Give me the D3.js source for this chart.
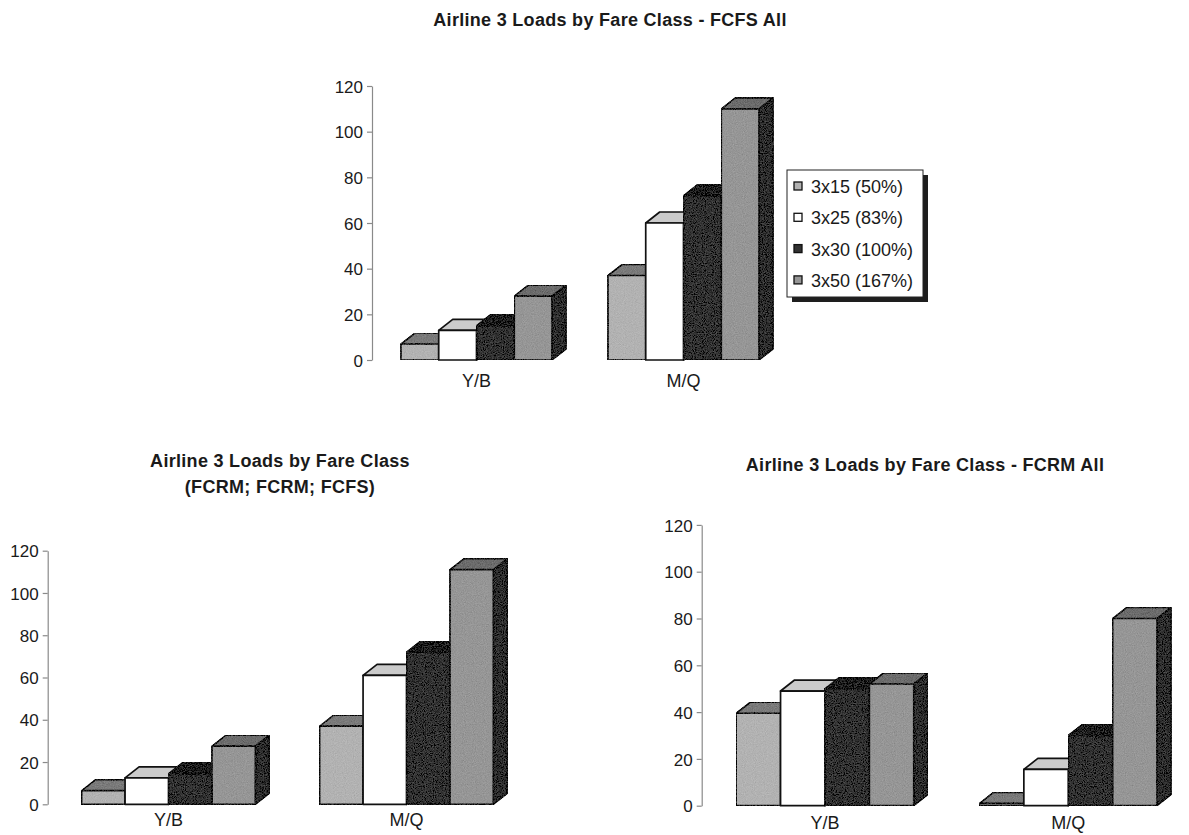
<!DOCTYPE html>
<html>
<head>
<meta charset="utf-8">
<script src="https://cdn.jsdelivr.net/npm/d3@7"></script>
<style>
  html, body { margin: 0; padding: 0; background: #fff; }
  svg { display: block; }
  text { font-family: "Liberation Sans", Arial, Helvetica, sans-serif; fill: #1a1a1a; }
  .title { font-weight: bold; font-size: 18px; letter-spacing: 0.3px; }
  .tick text { font-size: 17px; }
  .cat { font-size: 18px; }
  .legend text { font-size: 18px; }
</style>
</head>
<body>
<script>
// Categories, series and tick values
const categories = ["Y/B", "M/Q"];
const seriesNames = ["3x15 (50%)", "3x25 (83%)", "3x30 (100%)", "3x50 (167%)"];
const yTicks = [0, 20, 40, 60, 80, 100, 120];

// Loads per series, one array per fare class, for each scenario
const fcfsAllYB = [7, 13, 15, 28];
const fcfsAllMQ = [37, 60, 72, 110];
const mixedYB = [6.5, 12.5, 14.5, 27.5];
const mixedMQ = [37, 61, 72, 111];
const fcrmAllYB = [39.5, 49, 50, 52];
const fcrmAllMQ = [1, 15.5, 30, 80];

// Face shading per series: front, top and right side of each column
const seriesStyle = [
  { front: "#b2b2b2", top: "#7a7a7a", side: "#383838", grain: true },
  { front: "#ffffff", top: "#cbcbcb", side: "#383838", grain: false },
  { front: "#323232", top: "#1e1e1e", side: "#1c1c1c", grain: true },
  { front: "#969696", top: "#6c6c6c", side: "#2e2e2e", grain: true }
];

const W = 1189, H = 835;
const svg = d3.select("body").append("svg").attr("width", W).attr("height", H);

// Light stipple used on the shaded column faces
const defs = svg.append("defs");
const grain = defs.append("filter").attr("id", "grain")
  .attr("x", 0).attr("y", 0).attr("width", "100%").attr("height", "100%");
grain.append("feTurbulence").attr("type", "fractalNoise").attr("baseFrequency", 0.9)
  .attr("numOctaves", 2).attr("seed", 7).attr("result", "noise");
grain.append("feColorMatrix").attr("in", "noise").attr("type", "matrix")
  .attr("values", "0.33 0.33 0.33 0 0  0.33 0.33 0.33 0 0  0.33 0.33 0.33 0 0  0 0 0 0 1")
  .attr("result", "grey");
grain.append("feComposite").attr("in", "SourceGraphic").attr("in2", "grey")
  .attr("operator", "arithmetic").attr("k1", 0).attr("k2", 1).attr("k3", 0.32).attr("k4", -0.16)
  .attr("result", "mix");
grain.append("feComposite").attr("in", "mix").attr("in2", "SourceGraphic").attr("operator", "in");

const DX = 14, DY = 11;   // depth offset of the 3-D columns

function drawChart(cfg) {
  const g = svg.append("g");

  const y = d3.scaleLinear().domain([0, 120]).range([cfg.y0, cfg.y120]);
  const x = d3.scaleBand().domain(categories)
    .range([cfg.plotStart, cfg.plotStart + 2 * cfg.step])
    .paddingInner(0.27).paddingOuter(0.135);
  const xs = d3.scaleBand().domain(d3.range(seriesNames.length)).range([0, x.bandwidth()]);

  // Title
  cfg.title.forEach((line, i) => {
    g.append("text").attr("class", "title")
      .attr("x", cfg.titleX).attr("y", cfg.titleY + i * 26)
      .attr("text-anchor", "middle").text(line);
  });

  // Value axis
  const axis = g.append("g").attr("transform", `translate(${cfg.axisX},0)`)
    .call(d3.axisLeft(y).tickValues(yTicks).tickSize(5).tickSizeOuter(0).tickPadding(4));
  axis.select(".domain").attr("stroke", "#8a8a8a").attr("stroke-width", 1.2);
  axis.selectAll(".tick line").attr("stroke", "#8a8a8a").attr("stroke-width", 1.2);
  axis.selectAll(".tick text").attr("fill", "#1a1a1a").attr("dy", "0.36em");

  // Columns: drawn left to right so each one covers the side of its neighbour
  const base = y(0);
  categories.forEach((cat, ci) => {
    const vals = cfg.values[ci];
    vals.forEach((v, si) => {
      const st = seriesStyle[si];
      const x0 = x(cat) + xs(si), x1 = x0 + xs.bandwidth();
      const yt = y(v);
      const col = g.append("g")
        .attr("stroke", "#111").attr("stroke-width", 1.7).attr("stroke-linejoin", "round");
      const f = st.grain ? "url(#grain)" : null;
      col.append("path")
        .attr("d", `M${x1},${base}L${x1 + DX},${base - DY}L${x1 + DX},${yt - DY}L${x1},${yt}Z`)
        .attr("fill", st.side).attr("filter", f);
      col.append("path")
        .attr("d", `M${x0},${yt}L${x0 + DX},${yt - DY}L${x1 + DX},${yt - DY}L${x1},${yt}Z`)
        .attr("fill", st.top).attr("filter", f);
      col.append("rect")
        .attr("x", x0).attr("y", yt).attr("width", x1 - x0).attr("height", base - yt)
        .attr("fill", st.front).attr("filter", f);
    });
  });

  // Category labels
  g.selectAll("text.cat").data(categories).join("text").attr("class", "cat")
    .attr("x", d => x(d) + x.bandwidth() / 2).attr("y", cfg.catY)
    .attr("text-anchor", "middle").text(d => d);

  return g;
}

drawChart({
  title: ["Airline 3 Loads by Fare Class - FCFS All"], titleX: 610, titleY: 26,
  axisX: 372, plotStart: 373, step: 207, y0: 360, y120: 86, catY: 387,
  values: [fcfsAllYB, fcfsAllMQ]
});

drawChart({
  title: ["Airline 3 Loads by Fare Class", "(FCRM; FCRM; FCFS)"], titleX: 280, titleY: 467,
  axisX: 47.7, plotStart: 49.5, step: 238, y0: 804.3, y120: 550.7, catY: 826,
  values: [mixedYB, mixedMQ]
});

drawChart({
  title: ["Airline 3 Loads by Fare Class - FCRM All"], titleX: 925, titleY: 471,
  axisX: 701.7, plotStart: 703.3, step: 243.3, y0: 805.7, y120: 524.9, catY: 829,
  values: [fcrmAllYB, fcrmAllMQ]
});

// Legend for the upper chart
const lg = svg.append("g").attr("class", "legend").attr("transform", "translate(787,170)");
lg.append("rect").attr("x", 5).attr("y", 5).attr("width", 136).attr("height", 127).attr("fill", "#1e1e1e");
lg.append("rect").attr("x", 0).attr("y", 0).attr("width", 136).attr("height", 127)
  .attr("fill", "#fff").attr("stroke", "#222").attr("stroke-width", 1);
const rows = lg.selectAll("g.row").data(seriesNames).join("g").attr("class", "row")
  .attr("transform", (d, i) => `translate(0,${23 + i * 31.3})`);
rows.append("rect").attr("x", 7).attr("y", -11).attr("width", 8).attr("height", 8)
  .attr("fill", (d, i) => seriesStyle[i].front).attr("stroke", "#111").attr("stroke-width", 1.3);
rows.append("text").attr("x", 24).attr("y", 0).text(d => d);
</script>
</body>
</html>
